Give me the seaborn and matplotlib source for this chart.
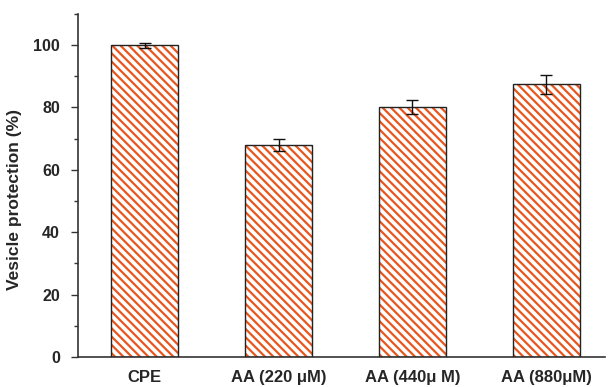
import matplotlib
matplotlib.use("Agg")
import matplotlib.pyplot as plt
import seaborn as sns
import pandas as pd
from matplotlib.ticker import MultipleLocator

categories = ["CPE", "AA (220 \u03bcM)", "AA (440\u03bc M)", "AA (880\u03bcM)"]
values = [100.0, 68.0, 80.2, 87.4]
errors = [0.8, 2.0, 2.3, 3.0]

sns.set_theme(style="white")
plt.rcParams["font.family"] = ["Liberation Sans", "DejaVu Sans"]
plt.rcParams["hatch.linewidth"] = 1.6
plt.rcParams["hatch.color"] = "#E8561E"

df = pd.DataFrame({"group": categories, "value": values})

fig = plt.figure(figsize=(6.08, 3.87), dpi=100)
ax = fig.add_axes([0.128, 0.0775, 0.867, 0.8865])

sns.barplot(data=df, x="group", y="value", ax=ax, width=0.5, color="white",
            errorbar=None, saturation=1)
for p in ax.patches:
    p.set_hatch("\\\\\\\\")
    p.set_edgecolor("#E8561E")
    p.set_linewidth(0)
    r = plt.Rectangle(p.get_xy(), p.get_width(), p.get_height(), fill=False,
                      edgecolor="#222222", linewidth=1.0, zorder=3)
    ax.add_patch(r)

ax.errorbar(range(len(values)), values, yerr=errors, fmt="none",
            ecolor="#111111", elinewidth=1.0, capsize=4, capthick=1.0, zorder=4)

ax.set_xlim(-0.5, 3.44)
ax.set_ylim(0, 110)
ax.yaxis.set_major_locator(MultipleLocator(20))
ax.yaxis.set_minor_locator(MultipleLocator(10))
ax.tick_params(axis="y", which="major", direction="out", length=5, width=1,
               color="#333333", left=True, labelsize=11.5, pad=8)
ax.tick_params(axis="y", which="minor", direction="out", length=3, width=1,
               color="#333333", left=True)
ax.tick_params(axis="x", length=0, labelsize=12, pad=9)
for lab in ax.get_yticklabels() + ax.get_xticklabels():
    lab.set_fontweight("bold")
ax.set_xlabel("")
ax.set_ylabel("Vesicle protection (%)", fontsize=12.5, fontweight="bold", labelpad=4)
ax.yaxis.set_label_coords(-0.105, 0.46)

sns.despine(ax=ax, top=True, right=True)
for s in ["left", "bottom"]:
    ax.spines[s].set_color("#333333")
    ax.spines[s].set_linewidth(1.2)

fig.savefig("out.png", dpi=100)
